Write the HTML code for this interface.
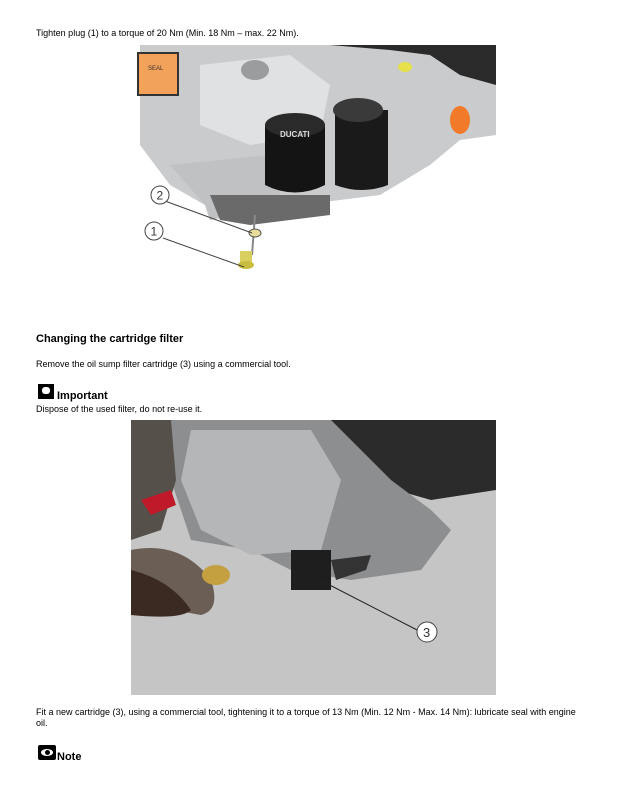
<!DOCTYPE html>
<html><head><style>
body{margin:0;width:623px;height:797px;background:#fff;font-family:"Liberation Sans",sans-serif;color:#000;position:relative;overflow:hidden}
.t{position:absolute;left:36px;font-size:9px;line-height:11px}
</style></head><body>
<div class="t" style="top:28px">Tighten plug (1) to a torque of 20 Nm (Min. 18 Nm – max. 22 Nm).</div>
<svg style="position:absolute;left:130px;top:45px" width="366" height="274" viewBox="0 0 366 274">
<rect width="366" height="274" fill="#fff"/>
<path d="M10 0H366V90L330 95 300 120 250 150 170 160 140 150 110 170 80 175 75 160 40 140 10 100Z" fill="#c9cbcd"/>
<path d="M200 0H366V40L330 30 300 10 260 5Z" fill="#2a2a2a"/>
<path d="M70 20L160 10 200 40 190 90 120 100 70 80Z" fill="#dfe1e3"/>
<path d="M40 120L140 110 150 150 80 175 75 160Z" fill="#bfc1c3"/>
<path d="M80 150L200 150 200 170 120 180 90 175Z" fill="#6a6a6a"/>
<ellipse cx="125" cy="25" rx="14" ry="10" fill="#9a9c9e"/>
<path d="M135 80H195V140Q165 155 135 140Z" fill="#141414"/>
<ellipse cx="165" cy="80" rx="30" ry="12" fill="#2a2a2a"/>
<text x="150" y="92" font-size="8" fill="#ddd" font-weight="bold" font-family="Liberation Sans">DUCATI</text>
<path d="M205 65H258V140Q232 150 205 140Z" fill="#1a1a1a"/>
<ellipse cx="228" cy="65" rx="25" ry="12" fill="#3a3a3a"/>
<ellipse cx="275" cy="22" rx="7" ry="5" fill="#e6e04a"/>
<ellipse cx="330" cy="75" rx="10" ry="14" fill="#f07a2a"/>
<rect x="8" y="8" width="40" height="42" fill="#f3a25a" stroke="#333" stroke-width="2"/>
<text x="18" y="25" font-size="6" fill="#333" font-family="Liberation Sans">SEAL</text>
<line x1="125" y1="170" x2="122" y2="210" stroke="#888" stroke-width="2"/>
<ellipse cx="125" cy="188" rx="6" ry="4" fill="#e7dc9a" stroke="#555"/>
<rect x="110" y="206" width="12" height="14" fill="#d8cf60"/>
<ellipse cx="116" cy="220" rx="8" ry="4" fill="#c9bd40"/>
<line x1="35" y1="156" x2="122" y2="188" stroke="#444" stroke-width="1"/>
<line x1="33" y1="193" x2="114" y2="222" stroke="#444" stroke-width="1"/>
<circle cx="30" cy="150" r="9" fill="#fff" stroke="#444"/><text x="26.5" y="154.5" font-size="12" font-family="Liberation Sans" fill="#333">2</text>
<circle cx="24" cy="186" r="9" fill="#fff" stroke="#444"/><text x="20.5" y="190.5" font-size="12" font-family="Liberation Sans" fill="#333">1</text>
</svg>
<div style="position:absolute;left:36px;top:333px;font-size:11px;font-weight:bold">Changing the cartridge filter</div>
<div class="t" style="top:359px">Remove the oil sump filter cartridge (3) using a commercial tool.</div>
<div style="position:absolute;left:38px;top:384px;width:16px;height:15px;background:#000"><div style="position:absolute;left:4px;top:3px;width:8px;height:7px;background:#fff;border-radius:3px"></div></div>
<div style="position:absolute;left:57px;top:390px;font-size:11px;font-weight:bold">Important</div>
<div class="t" style="top:404px">Dispose of the used filter, do not re-use it.</div>
<svg style="position:absolute;left:131px;top:420px" width="365" height="275" viewBox="0 0 365 275">
<rect width="365" height="275" fill="#c5c5c5"/>
<path d="M150 0H365V70L300 80 230 60 170 40Z" fill="#2b2b2b"/>
<path d="M40 0H200L260 60 300 90 320 110 290 150 220 160 160 150 120 130 60 120 40 60Z" fill="#8c8e90"/>
<path d="M60 10H180L210 60 190 130 120 135 70 110 50 60Z" fill="#b4b6b8"/>
<path d="M0 0H40L45 60 30 110 0 120Z" fill="#55504a"/>
<path d="M0 130Q50 120 80 160 90 190 70 195 40 190 0 180Z" fill="#6b5e55"/>
<path d="M0 150Q40 160 60 190 50 200 0 195Z" fill="#3b2a22"/>
<path d="M10 80L40 70 45 85 20 95Z" fill="#c01a2a"/>
<ellipse cx="85" cy="155" rx="14" ry="10" fill="#c4a040"/>
<path d="M160 130H200V170H160Z" fill="#1e1e1e"/>
<path d="M200 140L240 135 235 150 205 160Z" fill="#333"/>
<line x1="185" y1="158" x2="290" y2="212" stroke="#222" stroke-width="1"/>
<circle cx="296" cy="212" r="10" fill="#fff" stroke="#444"/><text x="292" y="217" font-size="13" font-family="Liberation Sans" fill="#333">3</text>
</svg>
<div class="t" style="top:707px;width:545px">Fit a new cartridge (3), using a commercial tool, tightening it to a torque of 13 Nm (Min. 12 Nm - Max. 14 Nm): lubricate seal with engine oil.</div>
<div style="position:absolute;left:38px;top:745px;width:18px;height:15px;background:#000;border-radius:2px"><div style="position:absolute;left:3px;top:4px;width:12px;height:7px;background:#fff;border-radius:50%"></div><div style="position:absolute;left:7px;top:5px;width:5px;height:5px;background:#000;border-radius:50%"></div></div>
<div style="position:absolute;left:57px;top:751px;font-size:11px;font-weight:bold">Note</div>
</body></html>
